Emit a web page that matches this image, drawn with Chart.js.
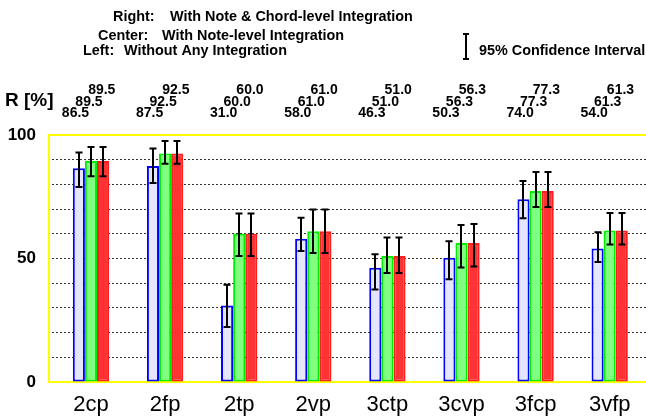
<!DOCTYPE html>
<html><head><meta charset="utf-8">
<script src="https://cdn.jsdelivr.net/npm/chart.js@4/dist/chart.umd.min.js"></script>
<style>html,body{margin:0;padding:0;background:#fff;}#wrap{width:646px;height:417px;position:relative;}</style>
</head><body><div id="wrap"><canvas id="c" width="646" height="417"></canvas></div>
<script>
const categories = ['2cp','2fp','2tp','2vp','3ctp','3cvp','3fcp','3vfp'];
const leftValues   = [86.5, 87.5, 31.0, 58.0, 46.3, 50.3, 74.0, 54.0];
const centerValues = [89.5, 92.5, 60.0, 61.0, 51.0, 56.3, 77.3, 61.3];
const rightValues  = [89.5, 92.5, 60.0, 61.0, 51.0, 56.3, 77.3, 61.3];
const leftCiLow    = [78.9, 80.6, 22.3, 53.0, 37.5, 41.6, 66.3, 48.6];
const leftCiHigh   = [92.9, 94.5, 39.4, 66.5, 51.7, 57.0, 81.4, 60.6];
const centerCiLow  = [83.3, 88.4, 51.0, 52.2, 44.1, 46.4, 70.9, 55.7];
const centerCiHigh = [95.1, 97.6, 68.2, 69.8, 58.5, 63.6, 85.0, 68.4];
const rightCiLow   = [83.3, 88.4, 51.0, 52.2, 44.1, 46.8, 70.9, 55.7];
const rightCiHigh  = [95.1, 97.6, 68.2, 69.8, 58.5, 64.0, 85.0, 68.4];
const yLabelTicks  = [0, 50, 100];
const legendLines = [
  ['Right:', 'With Note & Chord-level Integration'],
  ['Center:', 'With Note-level Integration'],
  ['Left:', 'Without Any Integration']
];
const ciLegend = '95% Confidence Interval';
const yTitle = 'R [%]';

const FONT = '"Liberation Sans", Arial, Helvetica, sans-serif';
const lows = [leftCiLow, centerCiLow, rightCiLow];
const highs = [leftCiHigh, centerCiHigh, rightCiHigh];

const toXY = arr => arr.map((v, i) => ({x: i, y: v}));

const framePlugin = {
  id: 'frame',
  beforeDatasetsDraw(chart) {
    const {ctx, chartArea: a, scales: {y}} = chart;
    const yt = y.getPixelForValue(100), yb = y.getPixelForValue(0);
    ctx.save();
    ctx.strokeStyle = '#ffff00';
    ctx.lineWidth = 2;
    ctx.beginPath();
    ctx.moveTo(a.left, yt); ctx.lineTo(a.right, yt);
    ctx.moveTo(a.left + 1, yt); ctx.lineTo(a.left + 1, yb);
    ctx.moveTo(a.left, yb); ctx.lineTo(a.right, yb);
    ctx.stroke();
    ctx.restore();
  }
};

const errorPlugin = {
  id: 'errbars',
  afterDatasetsDraw(chart) {
    const {ctx, scales: {y}} = chart;
    ctx.save();
    ctx.strokeStyle = '#000';
    ctx.lineWidth = 2;
    chart.data.datasets.forEach((ds, d) => {
      const meta = chart.getDatasetMeta(d);
      meta.data.forEach((el, j) => {
        const x = Math.round(el.x);
        const y1 = y.getPixelForValue(highs[d][j]);
        const y2 = y.getPixelForValue(lows[d][j]);
        ctx.beginPath();
        ctx.moveTo(x, y1); ctx.lineTo(x, y2);
        ctx.moveTo(x - 3.5, y1); ctx.lineTo(x + 3.5, y1);
        ctx.moveTo(x - 3.5, y2); ctx.lineTo(x + 3.5, y2);
        ctx.stroke();
      });
    });
    ctx.restore();
  }
};

const textPlugin = {
  id: 'texts',
  afterDraw(chart) {
    const {ctx, chartArea: a} = chart;
    ctx.save();
    ctx.fillStyle = '#000';
    ctx.textBaseline = 'middle';
    // legend
    ctx.font = 'bold 14.4px ' + FONT;
    const lx = [[113, 170], [98, 162], [83, 124]];
    const ly = [17, 36, 51];
    legendLines.forEach((ln, i) => {
      ctx.textAlign = 'left';
      ctx.fillText(ln[0], lx[i][0], ly[i]);
      ctx.fillText(ln[1], lx[i][1], ly[i]);
    });
    // CI legend
    ctx.strokeStyle = '#000';
    ctx.lineWidth = 2;
    ctx.beginPath();
    ctx.moveTo(466, 34); ctx.lineTo(466, 59);
    ctx.moveTo(463, 34); ctx.lineTo(469, 34);
    ctx.moveTo(463, 59); ctx.lineTo(469, 59);
    ctx.stroke();
    ctx.fillText(ciLegend, 479, 51);
    // y title
    ctx.font = 'bold 19px ' + FONT;
    ctx.fillText(yTitle, 5, 101);
    // value labels
    ctx.font = 'bold 14px ' + FONT;
    ctx.textAlign = 'center';
    const rows = [
      {d: 2, vals: rightValues, dy: -45, dx: -1.3},
      {d: 1, vals: centerValues, dy: -32.5, dx: -2},
      {d: 0, vals: leftValues, dy: -22, dx: -3.4}
    ];
    rows.forEach(r => {
      const meta = chart.getDatasetMeta(r.d);
      meta.data.forEach((el, j) => {
        ctx.fillText(r.vals[j].toFixed(1), el.x + r.dx, a.top + r.dy);
      });
    });
    ctx.restore();
  }
};

new Chart(document.getElementById('c'), {
  type: 'bar',
  data: {
    datasets: [
      {label: 'Left', data: toXY(leftValues), backgroundColor: '#e6e6fa', borderColor: '#0000ff', borderWidth: 2, borderSkipped: false},
      {label: 'Center', data: toXY(centerValues), backgroundColor: '#80ff80', borderColor: '#00ee00', borderWidth: 2, borderSkipped: false},
      {label: 'Right', data: toXY(rightValues), backgroundColor: '#ff3333', borderColor: '#ff1e1e', borderWidth: 2, borderSkipped: false}
    ]
  },
  options: {
    responsive: false,
    animation: false,
    devicePixelRatio: 1,
    categoryPercentage: 0.49,
    barPercentage: 1.0,
    layout: {padding: {top: 135, left: 0, right: 0, bottom: 0}},
    plugins: {legend: {display: false}, tooltip: {enabled: false}},
    scales: {
      x: {
        type: 'linear',
        min: -0.58,
        max: 7.49,
        offset: false,
        grid: {display: false, offset: false},
        border: {display: false},
        afterBuildTicks: s => { s.ticks = categories.map((c, i) => ({value: i})); },
        afterFit: s => { s.height = 35; },
        ticks: {
          autoSkip: false, maxRotation: 0,
          callback: v => categories[v] ?? '',
          font: {size: 22, family: FONT, lineHeight: 1},
          color: '#000',
          padding: 4
        }
      },
      y: {
        min: 0, max: 100,
        afterFit: s => { s.width = 48; },
        grid: {
          drawTicks: false,
          lineWidth: 1,
          color: c => (c.tick && (c.tick.value === 0 || c.tick.value === 100)) ? 'rgba(0,0,0,0)' : '#333'
        },
        border: {display: false, dash: [2, 2]},
        ticks: {
          stepSize: 10,
          callback: v => yLabelTicks.includes(v) ? String(v) : '',
          font: {size: 17, weight: 'bold', family: FONT},
          color: '#000',
          padding: 12
        }
      }
    }
  },
  plugins: [framePlugin, errorPlugin, textPlugin]
});
</script></body></html>
